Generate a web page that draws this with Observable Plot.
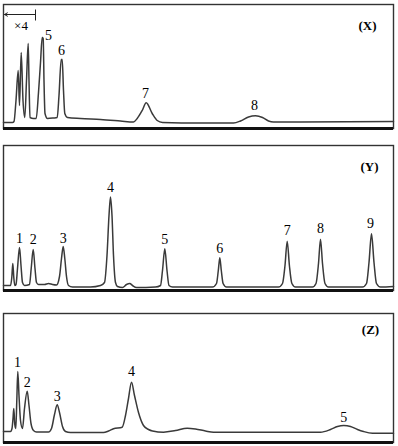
<!DOCTYPE html>
<html>
<head>
<meta charset="utf-8">
<script src="https://cdn.jsdelivr.net/npm/d3@7"></script>
<script src="https://cdn.jsdelivr.net/npm/@observablehq/plot@0.6"></script>
<style>
  html, body { margin: 0; padding: 0; background: #fff; }
  #wrap { position: relative; width: 398px; height: 446px; }
  #wrap > div { position: absolute; left: 0; }
  svg { display: block; }
</style>
</head>
<body>
<div id="wrap"><div id="px"></div><div id="py"></div><div id="pz"></div></div>
<script>
// ---- Panel X: retention time (min) and detector signal (a.u.)
const xTime = [0,0.9,1.05,1.25,1.47,1.6,1.77,1.95,2.13,2.3,2.47,2.55,2.65,3.0,3.27,3.5,3.7,3.87,3.97,4.05,4.15,4.4,5.0,5.37,5.55,5.77,5.87,6.0,6.13,6.4,7.7,9.7,11.7,13.0,13.37,13.87,14.27,14.87,15.37,15.9,19.7,23.0,23.7,24.5,25.2,25.9,26.5,27.0,29.7,39.0];
const xSignal = [6,6,7,28,58,23,76,28,11,48,85,48,11,10,10,36,66,91,90,48,15,10,10.5,11,33,69,69,38,15,11,10,9,7.5,6.5,10,18,25.7,15,8,6,5.5,5.5,7.5,11.5,12.7,11,7.5,6.5,6.5,7];
const xLabels = ["5","6","7","8"];
const xLabelTime = [4.5,5.8,14.2,25.1];
const xLabelSignal = [93,78,35,23];

// ---- Panel Y
const yTime = [0,0.7,0.83,0.93,1.03,1.13,1.25,1.4,1.6,1.75,1.9,2.1,2.6,2.77,2.97,3.15,3.3,3.5,4.1,4.5,4.9,5.3,5.6,5.8,5.97,6.13,6.3,6.5,6.9,8.7,9.7,10.1,10.35,10.55,10.7,10.85,11.0,11.2,11.4,11.9,12.3,12.63,12.9,13.3,15.2,15.7,15.9,16.13,16.35,16.55,16.9,20.9,21.3,21.48,21.63,21.78,21.96,22.3,27.5,27.9,28.15,28.37,28.59,28.84,29.2,30.9,31.25,31.5,31.7,31.9,32.15,32.5,35.9,36.3,36.55,36.8,37.05,37.3,37.7,39.0];
const ySignal = [5,5,13,27,13,5,6,22,43,25,8,5,6,22,41,22,8,6,6,7,6,5.5,14,32,44,32,14,5,3.5,3.5,5,8,35,75,93.5,75,35,8,4,3,6,7,5,3,3.5,5,20,41.7,20,5,3.5,3.5,7,20,32.7,20,7,3.5,3.5,7,25,49.3,25,7,3.5,3.5,7,27,51.3,27,7,3.5,3.5,7,28,56.7,28,7,3.5,4];
const yLabels = ["1","2","3","4","5","6","7","8","9"];
const yLabelTime = [1.6,2.97,5.97,10.7,16.13,21.63,28.37,31.7,36.7];
const yLabelSignal = [51.7,50.7,52,103.3,51,41.7,60,61.7,66.7];

// ---- Panel Z
const zTime = [0,0.7,0.85,0.95,1.03,1.13,1.23,1.33,1.43,1.55,1.7,1.9,2.1,2.37,2.55,2.75,3.0,3.3,4.5,4.8,5.1,5.37,5.6,5.9,6.2,6.7,10.0,10.5,11.0,11.87,12.2,12.5,12.8,13.1,13.5,14.0,14.5,14.9,16.0,17.2,18.37,19.2,20.2,21.0,31.7,32.7,33.4,34.03,34.7,35.4,36.0,36.9,39.0];
const zSignal = [11,11,14,24,34,18,14,42,71,47,22,14,34,51.3,37,19,12,10.5,10.5,14,28,37.7,30,16,11,10,10,11.5,13.7,15.3,27,44,60.3,47,30,17,13,11.5,10.3,12,14.3,13.5,11.5,10.3,10.3,13,16,17,16,13,11,9.3,9.3];
const zLabels = ["1","2","3","4","5"];
const zLabelTime = [1.4,2.37,5.37,12.8,34.03];
const zLabelSignal = [80.3,60.3,46,71.3,25.3];

// ---- Panel tags and x4 annotation
const panelTags = ["(X)","(Y)","(Z)"];
const tagTime = [36.4,36.6,36.7];
const tagSignal = [103,124,112.7];
const zoomNote = "×4";
const zoomStart = 0.1, zoomEnd = 3.2, zoomLevel = 114, zoomTextSignal = 103, zoomTickLow = 108, zoomTickHigh = 119;

const toRows = (t, s) => t.map((d, i) => ({t: d, s: s[i]}));
const toLabels = (names, t, s) => names.map((n, i) => ({name: n, t: t[i], s: s[i]}));

const serif = "Liberation Serif";
const lineColor = "#3a3a3a";

function panel(rows, labels, tag, yMax, height, extra = []) {
  return Plot.plot({
    width: 398, height,
    marginLeft: 3, marginRight: 5, marginTop: 2, marginBottom: 2,
    x: {domain: [0, 39], axis: null},
    y: {domain: [0, yMax], axis: null},
    style: {background: "#fff", fontFamily: serif},
    marks: [
      Plot.frame({stroke: "#333", strokeWidth: 1.4}),
      Plot.ruleY([0], {stroke: "#111", strokeWidth: 3}),
      Plot.line(rows, {x: "t", y: "s", curve: "monotone-x", stroke: lineColor, strokeWidth: 1.5}),
      Plot.text(labels, {x: "t", y: "s", text: "name", fontSize: 14, fill: "#000", fontFamily: serif}),
      Plot.text([tag], {x: d => d.t, y: d => d.s, text: d => d.name, fontSize: 13, fontWeight: "bold", fill: "#000", fontFamily: serif}),
      ...extra
    ]
  });
}

const tags = toLabels(panelTags, tagTime, tagSignal);

const xExtra = [
  Plot.arrow([{x1: (zoomStart + zoomEnd) / 2, x2: zoomStart, y: zoomLevel}], {x1: "x1", x2: "x2", y1: "y", y2: "y", stroke: "#222", strokeWidth: 1, headLength: 5, insetEnd: 0}),
  Plot.link([{x1: (zoomStart + zoomEnd) / 2, x2: zoomEnd, y: zoomLevel}], {x1: "x1", x2: "x2", y1: "y", y2: "y", stroke: "#222", strokeWidth: 1}),
  Plot.link([{x: zoomEnd, y1: zoomTickLow, y2: zoomTickHigh}], {x1: "x", x2: "x", y1: "y1", y2: "y2", stroke: "#222", strokeWidth: 1}),
  Plot.text([{x: (zoomStart + zoomEnd) / 2 + 0.1, y: zoomTextSignal, n: zoomNote}], {x: "x", y: "y", text: "n", fontSize: 13, fill: "#000", fontFamily: serif})
];

const px = document.getElementById("px");
px.style.top = "2px";
px.appendChild(panel(toRows(xTime, xSignal), toLabels(xLabels, xLabelTime, xLabelSignal), tags[0], 124, 128, xExtra));

const py = document.getElementById("py");
py.style.top = "143px";
py.appendChild(panel(toRows(yTime, ySignal), toLabels(yLabels, yLabelTime, yLabelSignal), tags[1], 145, 149));

const pz = document.getElementById("pz");
pz.style.top = "311px";
pz.appendChild(panel(toRows(zTime, zSignal), toLabels(zLabels, zLabelTime, zLabelSignal), tags[2], 129, 133));
</script>
</body>
</html>
